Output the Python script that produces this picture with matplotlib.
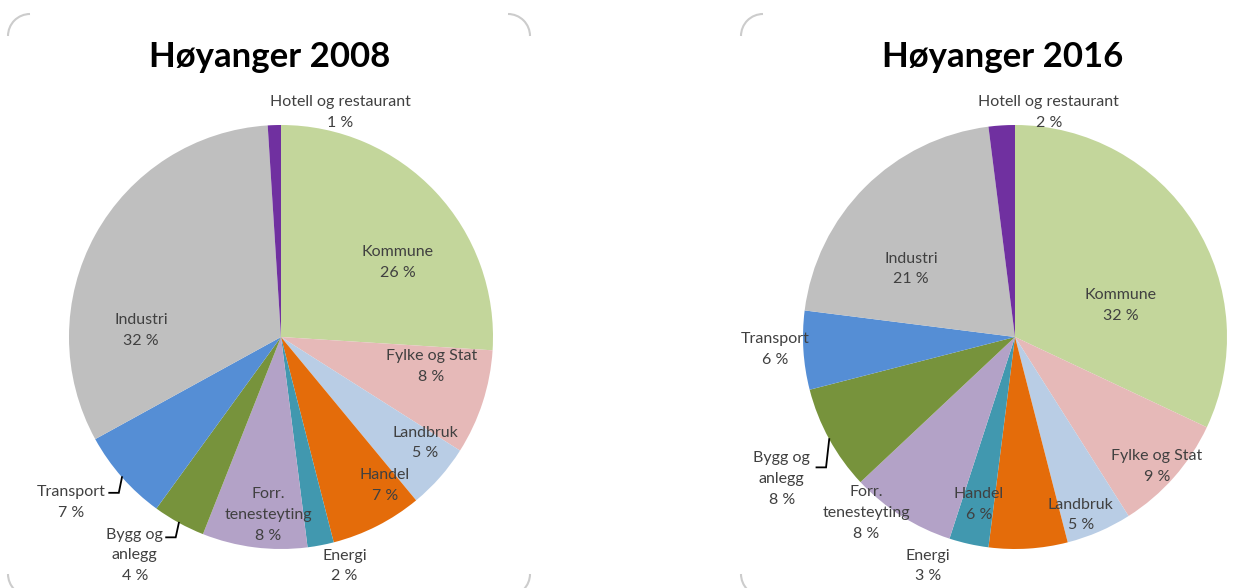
import numpy as np
import matplotlib
matplotlib.use("Agg")
from matplotlib import pyplot as plt
from matplotlib.patches import Arc

plt.rcParams['font.family'] = ['Lato', 'DejaVu Sans']

# data
categories = ['Kommune', 'Fylke og Stat', 'Landbruk', 'Handel', 'Energi',
              'Forr. tenesteyting', 'Bygg og anlegg', 'Transport', 'Industri',
              'Hotell og restaurant']
values_2008 = [26, 8, 5, 7, 2, 8, 4, 7, 32, 1]
values_2016 = [32, 9, 5, 6, 3, 8, 8, 6, 21, 2]
colors = ['#C3D69B', '#E6B9B8', '#B9CDE5', '#E46C0A', '#4198AF',
          '#B3A2C7', '#77933C', '#558ED5', '#BFBFBF', '#7030A0']

wrapped = {'Forr. tenesteyting': 'Forr.\ntenesteyting',
           'Bygg og anlegg': 'Bygg og\nanlegg'}

# label placement (in pie-radius units relative to centre)
pos_2008 = [(0.55, 0.35), (0.71, -0.14), (0.68, -0.50), (0.49, -0.70),
            (0.30, -1.08), (-0.06, -0.84), (-0.69, -1.03), (-0.99, -0.78),
            (-0.66, 0.03), (0.28, 1.06)]
pos_2016 = [(0.50, 0.15), (0.67, -0.61), (0.31, -0.84), (-0.17, -0.79),
            (-0.41, -1.08), (-0.70, -0.83), (-1.10, -0.67), (-1.13, -0.06),
            (-0.49, 0.32), (0.16, 1.06)]
# leader lines: index of slice -> y of the horizontal part
leaders_2008 = {7: -0.735, 6: -0.945}
leaders_2016 = {6: -0.615}

W, H = 1258, 588
fig = plt.figure(figsize=(W / 100, H / 100), dpi=100)

# background axes in pixel coordinates for the frame corners
bg = fig.add_axes([0, 0, 1, 1])
bg.set_xlim(0, W)
bg.set_ylim(H, 0)
bg.axis('off')
rc = 22
frames = [(8, 14, 530, 596), (741, 14, 1280, 596)]
for (x0, y0, x1, y1) in frames:
    for cx, cy, t1, t2 in [(x0 + rc, y0 + rc, 180, 270), (x1 - rc, y0 + rc, 270, 360),
                           (x0 + rc, y1 - rc, 90, 180), (x1 - rc, y1 - rc, 0, 90)]:
        bg.add_patch(Arc((cx, cy), 2 * rc, 2 * rc, theta1=t1, theta2=t2,
                         color='#CCCCCC', lw=1.5))

R = 212
L = 1.35


def draw_pie(cx, cy, values, pos, leaders, title, title_x):
    size = 2 * L * R
    ax = fig.add_axes([(cx - size / 2) / W, (H - cy - size / 2) / H, size / W, size / H])
    wedges, _ = ax.pie(values, colors=colors, startangle=90, counterclock=False,
                       wedgeprops=dict(linewidth=0, edgecolor='none'))
    ax.set_xlim(-L, L)
    ax.set_ylim(-L, L)
    ax.set_aspect('equal')
    for i, (cat, v) in enumerate(zip(categories, values)):
        txt = wrapped.get(cat, cat) + '\n' + str(v) + ' %'
        ax.text(pos[i][0], pos[i][1], txt, ha='center', va='center',
                fontsize=11.5, color='#404040', linespacing=1.6)
    total = sum(values)
    cum = np.cumsum([0] + values)
    for i, ly in leaders.items():
        mid = 90 - 360 * (cum[i] + values[i] / 2) / total
        ex, ey = np.cos(np.radians(mid)), np.sin(np.radians(mid))
        ax.plot([ex - 0.06, ex - 0.015, ex], [ly, ly, ey], color='black', lw=1.3,
                solid_joinstyle='miter')
    bg.text(title_x, 57, title, ha='center', va='center', fontsize=25,
            fontweight='bold', color='black')


draw_pie(281, 337, values_2008, pos_2008, leaders_2008, 'Høyanger 2008', 270)
draw_pie(1015, 337, values_2016, pos_2016, leaders_2016, 'Høyanger 2016', 1003)

fig.savefig('out.png', dpi=100)
